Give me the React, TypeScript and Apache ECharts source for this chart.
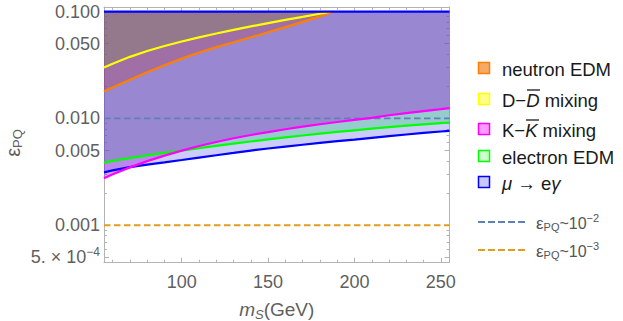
import React, { useEffect, useRef } from 'react';
import * as echarts from 'echarts';

// ---- data ----
const massGrid = [55, 60, 70, 80, 90, 100, 110, 120, 130, 140, 150, 160, 170, 180, 190, 200, 210, 220, 230, 240, 250, 255];
const muEGamma = [0.00313, 0.00326, 0.0035, 0.0037, 0.00388, 0.00408, 0.0043, 0.00452, 0.00475, 0.005, 0.00523, 0.00545, 0.00567, 0.0059, 0.00612, 0.00633, 0.00658, 0.00683, 0.00707, 0.00731, 0.00754, 0.00766];
const electronEDM = [0.00386, 0.004, 0.00425, 0.0045, 0.00475, 0.005, 0.00527, 0.00554, 0.00581, 0.00608, 0.00636, 0.00664, 0.00692, 0.0072, 0.00747, 0.00774, 0.00801, 0.00828, 0.00855, 0.0088, 0.00905, 0.00916];
const kkMixing = [0.00275, 0.003, 0.00348, 0.00398, 0.00448, 0.005, 0.00552, 0.00602, 0.00652, 0.007, 0.00745, 0.00792, 0.00838, 0.00882, 0.00925, 0.00968, 0.0101, 0.0107, 0.0112, 0.0117, 0.0122, 0.0125];
const neutronMass = [55, 60, 70, 80, 90, 100, 110, 120, 130, 140, 150, 160, 170, 180, 188];
const neutronEDM = [0.018, 0.0195, 0.023, 0.027, 0.0315, 0.0363, 0.0414, 0.0465, 0.0516, 0.0575, 0.0641, 0.0715, 0.0802, 0.0902, 0.1];
const ddMass = [55, 60, 70, 80, 90, 100, 110, 120, 130, 140, 150, 160, 170, 180, 186.5];
const ddMixing = [0.03, 0.0325, 0.0377, 0.0428, 0.0476, 0.0525, 0.0574, 0.0624, 0.0675, 0.0726, 0.078, 0.0836, 0.0893, 0.0955, 0.1];
const upperBound = 0.1;
const refLevels = [0.01, 0.001];
const xRange = [55, 255];
const yRange = [0.000446, 0.1104];
const xMajorTicks = [100, 150, 200, 250];
const xMinorTicks = [60, 70, 80, 90, 110, 120, 130, 140, 160, 170, 180, 190, 210, 220, 230, 240];
const yMajorTicks = [0.1, 0.05, 0.01, 0.005, 0.001, 0.0005];
const yTickLabels = ['0.100', '0.050', '0.010', '0.005', '0.001', '{a|5. × 10}{s|−4}'];
const yMinorTicks = [0.0006, 0.0007, 0.0008, 0.0009, 0.002, 0.003, 0.004, 0.006, 0.007, 0.008, 0.009, 0.02, 0.03, 0.04, 0.06, 0.07, 0.08, 0.09];
const legendLabels = ['neutron EDM', 'D−D mixing', 'K−K mixing', 'electron EDM', 'μ → eγ'];
const legendRich = [
  '{n|neutron EDM}',
  '{n|D−}{i|D}{n| mixing}',
  '{n|K−}{i|K}{n| mixing}',
  '{n|electron EDM}',
  '{i|μ}{n| → e}{i|γ}',
];
const refLabels = ['{e|ε}{b|PQ}{n|~10}{p|−2}', '{e|ε}{b|PQ}{n|~10}{p|−3}'];

const FONT = 'Liberation Sans, Arial, Helvetica, sans-serif';
const L = (v: number) => Math.log10(v);

export default function App() {
  const ref = useRef<HTMLDivElement>(null);
  useEffect(() => {
    if (!ref.current) return;
    const chart = echarts.init(ref.current, null, { renderer: 'svg' });

    const axisGray = '#b4b4b4';
    const labelGray = '#5f5f5f';
    const lineColors = ['#ff8000', '#ffff00', '#ff00ff', '#00ff00', '#0000ff'];
    const fillColors = ['rgba(176,40,40,0.25)', 'rgba(112,150,60,0.25)', 'rgba(162,30,217,0.4)', 'rgba(24,207,100,0.3)', 'rgba(0,0,230,0.2)'];
    const legendFills = ['#f7aa68', '#ffff88', '#ff9cff', '#ccffcc', '#c8c8ff'];
    const refColors = ['#5E81B5', '#E19C24'];

    const fillSeries: any[] = [];
    const lineSeries: any[] = [];
    const addRegion = (name: string, xs: number[], vals: number[], idx: number, z: number) => {
      fillSeries.push({
        name: name + ' region', type: 'custom', xAxisIndex: 0, yAxisIndex: 0, clip: true, z: 1,
        data: xs.map((x, i) => [x, L(vals[i])]),
        encode: { x: 0, y: 1 },
        renderItem: (params: any, api: any) => {
          if (params.dataIndex !== 0) return null;
          const lower = xs.map((x, i) => api.coord([x, L(vals[i])]));
          const upper = xs.slice().reverse().map((x) => api.coord([x, L(upperBound)]));
          return { type: 'polygon', shape: { points: lower.concat(upper) }, style: { fill: fillColors[idx] } };
        },
      });
      lineSeries.push({
        name, type: 'line', xAxisIndex: 0, yAxisIndex: 0,
        data: xs.map((x, i) => [x, L(vals[i])]), showSymbol: false, symbol: 'none',
        lineStyle: { color: lineColors[idx], width: 2.2 }, z,
      });
    };
    addRegion(legendLabels[4], massGrid, muEGamma, 4, 5);
    addRegion(legendLabels[3], massGrid, electronEDM, 3, 6);
    addRegion(legendLabels[2], massGrid, kkMixing, 2, 7);
    addRegion(legendLabels[0], neutronMass, neutronEDM, 0, 8);
    addRegion(legendLabels[1], ddMass, ddMixing, 1, 9);

    const series: any[] = [...fillSeries, ...lineSeries];
    series.push({
      name: 'upper', type: 'line', xAxisIndex: 0, yAxisIndex: 0, showSymbol: false, symbol: 'none',
      data: [[xRange[0], L(upperBound)], [xRange[1], L(upperBound)]],
      lineStyle: { color: '#0000ff', width: 2.2 }, z: 10,
    });
    refLevels.forEach((lv, i) => {
      series.push({
        name: 'ref' + i, type: 'line', xAxisIndex: 0, yAxisIndex: 0, showSymbol: false, symbol: 'none',
        data: [[xRange[0], L(lv)], [xRange[1], L(lv)]],
        lineStyle: { color: refColors[i], width: 1.8, type: [6.5, 3.5] }, z: 4,
      });
    });

    const xMin = xRange[0], xMax = xRange[1];
    const yMin = L(yRange[0]), yMax = L(yRange[1]);

    const xAxisBase = (pos: string, major: boolean, labels: boolean, line: boolean) => ({
      type: 'value', min: xMin, max: xMax, position: pos,
      axisLine: { show: line, lineStyle: { color: axisGray, width: 1 } },
      axisTick: { show: true, inside: true, length: major ? 5 : 3, customValues: major ? xMajorTicks : xMinorTicks, lineStyle: { color: axisGray } },
      axisLabel: labels
        ? { show: true, customValues: xMajorTicks, color: labelGray, fontSize: 18, fontFamily: FONT, margin: 10 }
        : { show: false },
      splitLine: { show: false },
    });
    const yAxisBase = (pos: string, major: boolean, labels: boolean, line: boolean) => ({
      type: 'value', min: yMin, max: yMax, position: pos,
      axisLine: { show: line, lineStyle: { color: axisGray, width: 1 } },
      axisTick: { show: true, inside: true, length: major ? 5 : 3, customValues: (major ? yMajorTicks : yMinorTicks).map(L), lineStyle: { color: axisGray } },
      axisLabel: labels
        ? {
            show: true, customValues: yMajorTicks.map(L), color: labelGray, fontSize: 18, fontFamily: FONT, margin: 4,
            formatter: (v: number) => {
              const i = yMajorTicks.findIndex((t) => Math.abs(L(t) - v) < 1e-6);
              return i >= 0 ? yTickLabels[i] : '';
            },
            rich: {
              a: { fontSize: 18, color: labelGray, fontFamily: FONT },
              s: { fontSize: 12, color: labelGray, fontFamily: FONT, padding: [0, 0, 10, 0] },
            },
          }
        : { show: false },
      splitLine: { show: false },
    });

    const xAxisName = {
      name: '{i|m}{u|S}{n|(GeV)}',
      nameLocation: 'middle',
      nameGap: 36,
      nameTextStyle: {
        rich: {
          i: { fontSize: 19, fontStyle: 'italic', color: labelGray, fontFamily: FONT },
          u: { fontSize: 13, fontStyle: 'italic', color: labelGray, fontFamily: FONT, padding: [9, 0, 0, 0] },
          n: { fontSize: 19, color: labelGray, fontFamily: FONT },
        },
      },
    };

    const graphics: any[] = [];
    graphics.push({
      type: 'text', x: 13, y: 143, rotation: Math.PI / 2,
      style: {
        text: '{e|ε}{b|PQ}', align: 'center', verticalAlign: 'middle',
        rich: {
          e: { fontSize: 20, fill: labelGray, fontFamily: FONT },
          b: { fontSize: 13, fill: labelGray, fontFamily: FONT, padding: [9, 0, 0, 0] },
        },
      },
    });
    const rowY = [68, 99, 129, 156, 182];
    rowY.forEach((y, i) => {
      graphics.push({
        type: 'rect', shape: { x: 478.5, y: y - 5.5, width: 11, height: 11 },
        style: { fill: legendFills[i], stroke: lineColors[i], lineWidth: 1.5 },
      });
      graphics.push({
        type: 'text', x: 502, y: y + 1,
        style: {
          text: legendRich[i], verticalAlign: 'middle', align: 'left',
          rich: {
            n: { fontSize: 18.5, fill: '#1a1a1a', fontFamily: FONT },
            i: { fontSize: 18.5, fill: '#1a1a1a', fontFamily: FONT, fontStyle: 'italic' },
          },
        },
      });
    });
    graphics.push({ type: 'line', shape: { x1: 527, y1: rowY[1] - 9, x2: 540, y2: rowY[1] - 9 }, style: { stroke: '#1a1a1a', lineWidth: 1.3 } });
    graphics.push({ type: 'line', shape: { x1: 526, y1: rowY[2] - 9, x2: 539, y2: rowY[2] - 9 }, style: { stroke: '#1a1a1a', lineWidth: 1.3 } });
    const refRowY = [222, 250];
    refRowY.forEach((y, i) => {
      graphics.push({
        type: 'line', shape: { x1: 478, y1: y, x2: 527, y2: y },
        style: { stroke: refColors[i], lineWidth: 1.8, lineDash: [7, 3] },
      });
      graphics.push({
        type: 'text', x: 536, y: y + 1,
        style: {
          text: refLabels[i], verticalAlign: 'middle', align: 'left',
          rich: {
            e: { fontSize: 17, fill: '#555', fontFamily: FONT },
            b: { fontSize: 11, fill: '#555', fontFamily: FONT, padding: [7, 0, 0, 0] },
            n: { fontSize: 16, fill: '#555', fontFamily: FONT },
            p: { fontSize: 11, fill: '#555', fontFamily: FONT, padding: [0, 0, 10, 0] },
          },
        },
      });
    });

    chart.setOption({
      animation: false,
      backgroundColor: '#ffffff',
      grid: { left: 104, top: 7, width: 345.5, height: 255.7, containLabel: false, outerBoundsMode: 'none' },
      xAxis: [
        { ...xAxisBase('bottom', true, true, true), ...xAxisName },
        xAxisBase('bottom', false, false, false),
        xAxisBase('top', true, false, true),
        xAxisBase('top', false, false, false),
      ],
      yAxis: [
        yAxisBase('left', true, true, true),
        yAxisBase('left', false, false, false),
        yAxisBase('right', true, false, true),
        yAxisBase('right', false, false, false),
      ],
      series,
      graphic: graphics,
    });
    return () => chart.dispose();
  }, []);
  return <div ref={ref} style={{ position: 'fixed', left: 0, top: 0, width: 623, height: 321 }} />;
}
